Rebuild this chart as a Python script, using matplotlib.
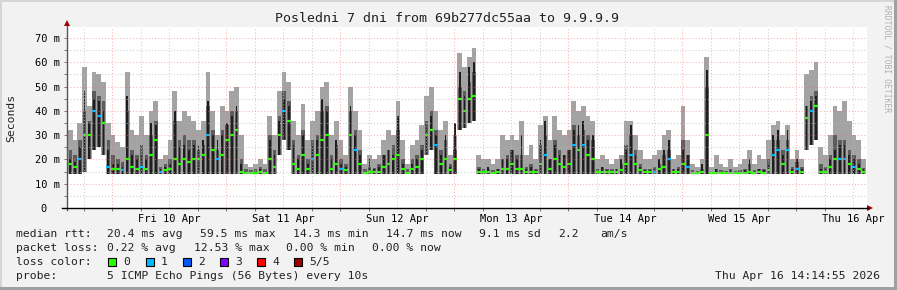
import numpy as np
import matplotlib.pyplot as plt
from matplotlib.patches import Rectangle, Polygon

plt.rcParams['font.family'] = ['DejaVu Sans Mono']

# hourly samples, starting Thu 9 Apr ~14:40 (hours relative to Fri 10 Apr 00:00)
hi = [32, 28, 35, 58, 42, 56, 55, 52, 35, 30, 27, 25,
      56, 32, 30, 38, 30, 40, 44, 20, 22, 28, 48, 36,
      40, 38, 36, 32, 36, 56, 40, 30, 42, 40, 48, 50,
      30, 18, 17, 18, 20, 18, 38, 30, 48, 56, 52, 36,
      30, 43, 28, 36, 40, 50, 52, 30, 36, 28, 22, 50,
      40, 32, 18, 22, 20, 22, 28, 32, 30, 44, 28, 18,
      26, 28, 34, 46, 50, 40, 32, 36, 22, 30, 64, 58,
      62, 66, 22, 20, 20, 18, 20, 30, 28, 30, 28, 36,
      22, 26, 20, 34, 38, 28, 38, 32, 30, 32, 44, 40,
      42, 38, 36, 20, 22, 20, 18, 20, 22, 36, 36, 30,
      24, 20, 20, 22, 24, 30, 32, 20, 22, 42, 28, 18,
      17, 20, 62, 17, 22, 18, 17, 20, 17, 18, 20, 24,
      18, 22, 20, 28, 34, 36, 30, 34, 20, 24, 20, 55,
      57, 60, 25, 22, 30, 42, 40, 44, 36, 30, 28, 20]

mid = [24, 22, 28, 40, 36, 48, 46, 44, 28, 22, 20, 19,
       40, 24, 22, 26, 22, 30, 36, 17, 18, 20, 36, 28,
       30, 28, 28, 24, 26, 42, 32, 24, 32, 34, 40, 40,
       20, 16, 15.5, 16, 17, 16, 30, 24, 38, 48, 44, 28,
       22, 32, 20, 28, 30, 40, 42, 22, 26, 20, 18, 40,
       32, 24, 16, 17, 16.5, 18, 22, 24, 26, 32, 20, 16,
       20, 22, 26, 36, 40, 32, 24, 28, 18, 24, 50, 48,
       52, 56, 17, 16, 16, 15.5, 16, 20, 22, 24, 22, 22,
       17, 18, 16, 26, 30, 20, 28, 24, 22, 24, 34, 30,
       32, 30, 28, 16, 17, 16, 16, 16, 18, 26, 30, 24,
       18, 16, 16, 17, 18, 22, 24, 16, 17, 28, 22, 15.5,
       15.3, 16, 50, 15, 16, 15.5, 15.3, 16, 15.3, 15.5, 16, 18,
       15.5, 16, 16, 20, 28, 28, 24, 28, 17, 19, 17, 42,
       46, 48, 18, 17, 22, 30, 28, 28, 24, 22, 20, 16.5]

blk = [20, 19, 25, 48, 35, 45, 44, 40, 24, 18, 18, 17,
       46, 22, 20, 22, 20, 35, 34, 16, 17, 18, 40, 25,
       26, 24, 26, 26, 28, 44, 30, 28, 30, 35, 38, 42,
       18, 15, 15, 15, 16, 15, 28, 22, 36, 45, 42, 26,
       20, 30, 18, 26, 28, 45, 40, 20, 28, 18, 17, 42,
       30, 22, 15, 20, 16, 17, 22, 24, 22, 38, 18, 15,
       18, 20, 24, 34, 38, 30, 22, 30, 17, 35, 56, 46,
       58, 60, 16, 15.5, 17, 15, 16, 20, 20, 24, 20, 30,
       16, 17, 15.5, 28, 36, 20, 26, 22, 22, 24, 32, 34,
       36, 28, 30, 15.5, 17, 15.5, 15, 16, 20, 24, 34, 22,
       17, 15.5, 15.5, 16, 20, 24, 28, 16, 16, 24, 22, 15,
       15, 18, 57, 15, 16, 15, 15, 15.5, 15, 15, 15.5, 20,
       15, 16, 15.5, 18, 30, 32, 22, 32, 16, 20, 16, 42,
       44, 46, 16, 16, 20, 24, 26, 26, 22, 20, 18, 16]

med = [18, 17, 20, 30, 30, 40, 38, 35, 17, 16, 16, 15.5,
       20, 17, 16, 17, 16, 22, 28, 15, 15.5, 16, 20, 18,
       20, 19, 20, 20, 22, 30, 24, 20, 22, 28, 30, 32,
       15, 14.5, 14.5, 14.5, 14.8, 14.6, 20, 17, 30, 40, 36, 18,
       16, 22, 16, 20, 22, 28, 30, 16, 18, 16, 15.5, 30,
       24, 18, 14.5, 15, 14.8, 15, 17, 18, 20, 22, 16, 14.5,
       16, 17, 20, 30, 32, 26, 18, 20, 15.5, 20, 45, 40,
       45, 46, 15, 14.8, 14.8, 14.6, 14.8, 16, 16, 18, 16, 16,
       15, 15, 14.8, 18, 22, 16, 20, 18, 17, 18, 26, 24,
       26, 22, 20, 14.8, 15, 14.8, 14.8, 15, 15.5, 18, 22, 18,
       15.5, 14.8, 14.8, 15, 16, 17, 20, 15, 15, 18, 17, 14.6,
       14.5, 15, 30, 14.5, 14.6, 14.5, 14.5, 14.6, 14.5, 14.5, 14.6, 15,
       14.6, 14.8, 14.6, 15.5, 22, 24, 18, 24, 15, 16, 15, 37,
       40, 42, 15, 15, 17, 20, 20, 20, 18, 17, 16, 15]

lo = [14, 14, 14, 15, 20, 24, 25, 22, 14, 14, 14, 14,
      14, 14, 14, 14, 14, 14, 14, 14, 14, 14, 14, 14,
      14, 14, 14, 14, 14, 14, 14, 14, 14, 14, 14, 14,
      14, 14, 14, 14, 14, 14, 14, 14, 22, 28, 24, 14,
      14, 14, 14, 14, 14, 14, 14, 14, 14, 14, 14, 14,
      14, 14, 14, 14, 14, 14, 14, 14, 14, 14, 14, 14,
      14, 14, 14, 22, 24, 14, 14, 14, 14, 14, 32, 33,
      35, 36, 14, 14, 14, 14, 14, 14, 14, 14, 14, 14,
      14, 14, 14, 14, 14, 14, 14, 14, 14, 14, 14, 14,
      14, 14, 14, 14, 14, 14, 14, 14, 14, 14, 14, 14,
      14, 14, 14, 14, 14, 14, 14, 14, 14, 14, 14, 14,
      14, 14, 14, 14, 14, 14, 14, 14, 14, 14, 14, 14,
      14, 14, 14, 14, 14, 14, 14, 14, 14, 14, 14, 24,
      26, 28, 14, 14, 14, 14, 14, 14, 14, 14, 14, 14]

# hours with one lost ping out of five
loss1_hours = [2, 5, 6, 8, 11, 15, 19, 29, 31, 45, 51, 57, 60, 77, 100, 106,
               108, 118, 123, 126, 130, 148, 149, 151, 153, 156, 162, 163, 165]

day_labels = ['Fri 10 Apr', 'Sat 11 Apr', 'Sun 12 Apr', 'Mon 13 Apr',
              'Tue 14 Apr', 'Wed 15 Apr', 'Thu 16 Apr']

title = 'Posledni 7 dni from 69b277dc55aa to 9.9.9.9'
rtt_items = [('median rtt:', 16), ('20.4 ms avg', 107), ('59.5 ms max', 200),
             ('14.3 ms min', 293), ('14.7 ms now', 386), ('9.1 ms sd', 479),
             ('2.2', 558), ('am/s', 600)]
loss_items = [('packet loss:', 16), ('0.22 % avg', 107), ('12.53 % max', 194),
              ('0.00 % min', 286), ('0.00 % now', 372)]
loss_names = ['0', '1', '2', '3', '4', '5/5']
loss_colors = ['#26ff00', '#00b8ff', '#0059ff', '#7e00ff', '#ff0000', '#a00000']
loss_x = [108, 146, 183, 220, 257, 294]
probe = '5 ICMP Echo Pings (56 Bytes) every 10s'
stamp = 'Thu Apr 16 14:14:55 2026'

W, H = 897, 290
fig = plt.figure(figsize=(W / 100, H / 100), dpi=100)
fig.patch.set_facecolor('#f2f2f2')

ax = fig.add_axes([67 / W, 1 - 208 / H, 800 / W, (208 - 27) / H])
ax.set_facecolor('white')
xmin = -9.54
xmax = xmin + 800 / 4.75
ax.set_xlim(xmin, xmax)
ax.set_ylim(0, 74.5)

n = len(med)
t = xmin + 0.2 + np.arange(n)
edges = np.append(t, t[-1] + 1)
hi_a, mid_a, blk_a, med_a, lo_a = (np.array(a, dtype=float) for a in (hi, mid, blk, med, lo))
c = t + 0.5

# smoke: outer (light), inner (dark), dense core (black)
ax.fill_between(edges, np.append(lo_a, lo_a[-1]), np.append(hi_a, hi_a[-1]),
                step='post', color='#a3a3a3', lw=0, zorder=2)
ax.bar(c, mid_a - lo_a, bottom=lo_a, width=0.75, color='#5c5c5c', lw=0, zorder=2)
ax.bar(c, blk_a - lo_a, bottom=lo_a, width=0.35, color='#1e1e1e', lw=0, zorder=3)

cols = np.where(np.isin(np.arange(n), loss1_hours), loss_colors[1], loss_colors[0])
ax.hlines(med_a, t + 0.1, t + 0.9, colors=cols, lw=1.6, zorder=4)

# grid
for y in range(5, 75, 5):
    if y % 10 == 0:
        ax.axhline(y, color='#ff6060', alpha=0.5, lw=0.75, ls=(0, (1, 2)), zorder=5)
    else:
        ax.axhline(y, color='#b8b8b8', alpha=0.7, lw=0.75, ls=(0, (1, 2)), zorder=5)
for h in range(-6, 160, 6):
    if h % 24 == 0:
        ax.axvline(h, color='#ff6060', alpha=0.5, lw=0.75, ls=(0, (1, 2)), zorder=5)
    else:
        ax.axvline(h, color='#b8b8b8', alpha=0.7, lw=0.75, ls=(0, (1, 2)), zorder=5)

for s in ax.spines.values():
    s.set_visible(False)

ax.set_xticks([12 + 24 * k for k in range(7)])
ax.set_xticklabels(day_labels, fontsize=7.5)
ax.set_xticks(list(range(-6, 160, 6)), minor=True)
ax.tick_params(axis='x', which='major', length=0, pad=4)
ax.tick_params(axis='x', which='minor', length=2, width=0.7, color='#777777', direction='out')
ax.set_yticks(list(range(0, 71, 10)))
ax.set_yticklabels(['0  '] + ['%d m' % v for v in range(10, 71, 10)], fontsize=7.5)
ax.set_yticks(list(range(5, 71, 10)), minor=True)
ax.tick_params(axis='y', which='both', length=2, width=0.7, color='#777777', pad=3)

# overlay in pixel coordinates for chrome and legend
ov = fig.add_axes([0, 0, 1, 1], facecolor='none')
ov.set_xlim(0, W)
ov.set_ylim(H, 0)
ov.axis('off')

ov.add_patch(Rectangle((0, 0), W, 2, color='#d6d6d6', lw=0))
ov.add_patch(Rectangle((0, 0), 2, H, color='#d6d6d6', lw=0))
ov.add_patch(Rectangle((0, H - 3), W, 3, color='#a0a0a0', lw=0))
ov.add_patch(Rectangle((W - 3, 0), 3, H, color='#a0a0a0', lw=0))

ov.plot([67, 67], [210, 26], color='#555555', lw=1)
ov.plot([62, 868], [208, 208], color='black', lw=1)
ov.add_patch(Polygon([[64, 26], [70, 26], [67, 20]], closed=True, color='#a00000', lw=0))
ov.add_patch(Polygon([[867, 205], [867, 211], [873, 208]], closed=True, color='#a00000', lw=0))

ov.text(447, 18, title, ha='center', va='center', fontsize=9.5, color='#222222')
ov.text(11, 118, 'Seconds', rotation=90, ha='center', va='center', fontsize=8.2, color='#222222')
ov.text(887, 5, 'RRDTOOL / TOBI OETIKER', rotation=270, ha='center', va='top',
        fontsize=5.8, color='#b0b0b0')

fs = 8.2
for txt, x in rtt_items:
    ov.text(x, 234, txt, ha='left', va='center', fontsize=fs, color='#222222')
for txt, x in loss_items:
    ov.text(x, 248, txt, ha='left', va='center', fontsize=fs, color='#222222')
ov.text(16, 262, 'loss color:', ha='left', va='center', fontsize=fs, color='#222222')
for name, col, x in zip(loss_names, loss_colors, loss_x):
    ov.add_patch(Rectangle((x, 258), 8, 8, facecolor=col, edgecolor='black', lw=0.8))
    ov.text(x + 15, 262, name, ha='left', va='center', fontsize=fs, color='#222222')
ov.text(16, 276, 'probe:', ha='left', va='center', fontsize=fs, color='#222222')
ov.text(107, 276, probe, ha='left', va='center', fontsize=fs, color='#222222')
ov.text(880, 276, stamp, ha='right', va='center', fontsize=fs, color='#222222')

fig.savefig('out.png', dpi=100, facecolor=fig.get_facecolor())
